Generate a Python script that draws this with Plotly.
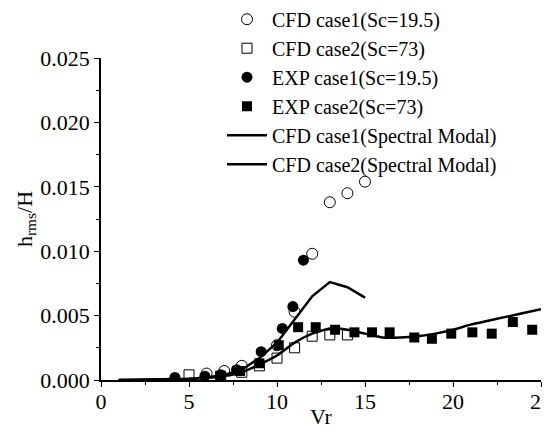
import plotly.graph_objects as go

# CFD case1 (Sc=19.5) - open circles
cfd1_vr = [6.0, 7.0, 8.0, 10.0, 11.0, 12.0, 13.0, 14.0, 15.0]
cfd1_h = [0.0005, 0.0007, 0.0011, 0.0027, 0.0053, 0.0098, 0.0138, 0.0145, 0.0154]

# CFD case2 (Sc=73) - open squares
cfd2_vr = [5.0, 6.8, 8.0, 9.0, 10.0, 11.0, 12.0, 13.0, 14.0]
cfd2_h = [0.0004, 0.0003, 0.0006, 0.0011, 0.0017, 0.0025, 0.0034, 0.0035, 0.0035]

# EXP case1 (Sc=19.5) - filled circles
exp1_vr = [4.2, 5.9, 6.8, 7.7, 9.1, 10.3, 10.9, 11.5]
exp1_h = [0.0002, 0.0003, 0.0004, 0.0008, 0.0022, 0.0040, 0.0057, 0.0093]

# EXP case2 (Sc=73) - filled squares
exp2_vr = [6.8, 7.9, 9.0, 10.1, 11.2, 12.2, 13.3, 14.4, 15.4, 16.4, 17.8, 18.8,
           19.9, 21.1, 22.2, 23.4, 24.5]
exp2_h = [0.0003, 0.0007, 0.0013, 0.0027, 0.0041, 0.0041, 0.0039, 0.0037, 0.0037,
          0.0037, 0.0033, 0.0032, 0.0036, 0.0037, 0.0036, 0.0045, 0.0039]

# CFD case1 (Spectral Modal) - line
sm1_vr = [1, 3, 5, 6, 7, 8, 9, 10, 11, 12, 13, 14, 15]
sm1_h = [0.0, 0.00003, 0.0001, 0.0002, 0.0004, 0.0008, 0.0017, 0.0029, 0.0047,
         0.0065, 0.0076, 0.0072, 0.0064]

# CFD case2 (Spectral Modal) - line
sm2_vr = [1, 3, 5, 6, 7, 8, 9, 10, 11, 12, 13, 14, 15, 16, 17, 18, 19, 20, 21,
          22, 23, 24, 25]
sm2_h = [0.0, 0.00002, 0.00008, 0.00015, 0.0003, 0.0006, 0.0012, 0.0019, 0.0029,
         0.0036, 0.0040, 0.0039, 0.0036, 0.0033, 0.0033, 0.0034, 0.0036, 0.0039,
         0.0043, 0.0046, 0.0049, 0.0052, 0.0055]

FONT = "Liberation Serif, Times New Roman, serif"

fig = go.Figure()
fig.add_trace(go.Scatter(x=cfd1_vr, y=cfd1_h, mode="markers", name="CFD case1(Sc=19.5)",
                         marker=dict(symbol="circle", size=11, color="white",
                                     line=dict(color="black", width=1))))
fig.add_trace(go.Scatter(x=cfd2_vr, y=cfd2_h, mode="markers", name="CFD case2(Sc=73)",
                         marker=dict(symbol="square", size=10, color="white",
                                     line=dict(color="black", width=1))))
fig.add_trace(go.Scatter(x=exp1_vr, y=exp1_h, mode="markers", name="EXP case1(Sc=19.5)",
                         marker=dict(symbol="circle", size=11, color="black",
                                     line=dict(color="black", width=0))))
fig.add_trace(go.Scatter(x=exp2_vr, y=exp2_h, mode="markers", name="EXP case2(Sc=73)",
                         marker=dict(symbol="square", size=10, color="black",
                                     line=dict(color="black", width=0))))
fig.add_trace(go.Scatter(x=sm1_vr, y=sm1_h, mode="lines", name="CFD case1(Spectral Modal)",
                         line=dict(color="black", width=2.5)))
fig.add_trace(go.Scatter(x=sm2_vr, y=sm2_h, mode="lines", name="CFD case2(Spectral Modal)",
                         line=dict(color="black", width=2.5, shape="spline", smoothing=0.5)))

axis_common = dict(showline=True, linecolor="black", linewidth=1.5, showgrid=False,
                   zeroline=False, ticks="outside", ticklen=5, tickwidth=1.2,
                   tickcolor="black", mirror=False, automargin=False,
                   ticklabeloverflow="allow",
                   tickfont=dict(family=FONT, size=22, color="black"))

fig.update_xaxes(range=[0, 25], tickvals=[0, 5, 10, 15, 20, 25],
                 ticklabelstandoff=-4,
                 minor=dict(tickvals=[2.5, 7.5, 12.5, 17.5, 22.5], ticks="outside",
                            ticklen=3, tickcolor="black", tickwidth=1),
                 title=dict(text="Vr", font=dict(family=FONT, size=22, color="black"),
                            standoff=0),
                 **axis_common)
fig.update_yaxes(range=[0, 0.025], tickvals=[0, 0.005, 0.01, 0.015, 0.02, 0.025],
                 tickformat=".3f",
                 minor=dict(tickvals=[0.0025, 0.0075, 0.0125, 0.0175, 0.0225],
                            ticks="outside", ticklen=3, tickcolor="black", tickwidth=1),
                 title=dict(text="h<sub>rms</sub>/H",
                            font=dict(family=FONT, size=22, color="black"), standoff=2),
                 **axis_common)

fig.update_layout(
    width=542, height=421,
    margin=dict(l=93, r=9, t=50, b=49, autoexpand=False),
    paper_bgcolor="white", plot_bgcolor="white",
    font=dict(family=FONT, size=22, color="black"),
    legend=dict(x=0.275, y=1.181, xanchor="left", yanchor="top",
                bgcolor="rgba(0,0,0,0)", borderwidth=0,
                font=dict(family=FONT, size=20, color="black"),
                tracegroupgap=0, itemwidth=40),
    showlegend=True,
)

fig.write_html("out.html")
